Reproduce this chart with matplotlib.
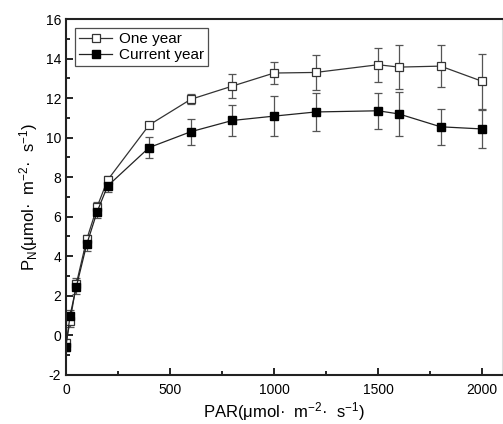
import numpy as np
from matplotlib import pyplot as plt
from matplotlib.ticker import MultipleLocator

plt.rcParams['font.family'] = ['Liberation Sans', 'DejaVu Sans']
plt.rcParams['mathtext.default'] = 'regular'
plt.rcParams['axes.unicode_minus'] = False

par = [0, 20, 50, 100, 150, 200, 400, 600, 800, 1000, 1200, 1500, 1600, 1800, 2000]

one_year = [-0.4, 0.7, 2.6, 4.85, 6.5, 7.85, 10.64, 11.94, 12.61, 13.27, 13.3, 13.69, 13.57, 13.62, 12.85]
one_year_err = [0.2, 0.3, 0.3, 0.2, 0.25, 0.2, 0.1, 0.25, 0.6, 0.55, 0.9, 0.87, 1.1, 1.05, 1.4]

current_year = [-0.6, 1.0, 2.45, 4.6, 6.25, 7.55, 9.5, 10.3, 10.87, 11.09, 11.3, 11.36, 11.2, 10.55, 10.44]
current_err = [0.2, 0.3, 0.35, 0.35, 0.3, 0.3, 0.55, 0.65, 0.8, 1.0, 0.97, 0.9, 1.1, 0.9, 0.95]

fig = plt.figure(figsize=(5.03, 4.24), dpi=100)
ax = fig.add_axes([0.131, 0.116, 0.867, 0.839])

# error bars first, then lines+markers on top (legend shows no bars)
ax.errorbar(par, one_year, yerr=one_year_err, fmt='none',
            ecolor='#555555', elinewidth=0.9, capsize=3, capthick=0.9)
ax.errorbar(par, current_year, yerr=current_err, fmt='none',
            ecolor='#555555', elinewidth=0.9, capsize=3, capthick=0.9)
ax.plot(par, one_year, color='#333333', lw=0.9, marker='s', ms=5.5,
        mfc='white', mec='#333333', mew=0.9, label='One year')
ax.plot(par, current_year, color='#222222', lw=0.9, marker='s', ms=5.5,
        mfc='black', mec='black', label='Current year')

ax.set_xlim(0, 2095)
ax.set_ylim(-2, 16)
ax.xaxis.set_major_locator(MultipleLocator(500))
ax.xaxis.set_minor_locator(MultipleLocator(250))
ax.yaxis.set_major_locator(MultipleLocator(2))
ax.yaxis.set_minor_locator(MultipleLocator(1))
ax.tick_params(which='both', direction='in', labelsize=10, width=1.2)
ax.tick_params(which='major', length=5)
ax.tick_params(which='minor', length=3)
ax.tick_params(axis='x', pad=6)
for s in ['left', 'bottom', 'top']:
    ax.spines[s].set_linewidth(1.5)
    ax.spines[s].set_color('#222222')
ax.spines['right'].set_color('#dddddd')
ax.spines['right'].set_linewidth(0.8)

ax.set_xlabel('PAR(μmol·  m$^{-2}$·  s$^{-1}$)', fontsize=12, labelpad=2)
ax.set_ylabel('P$_N$(μmol·  m$^{-2}$·  s$^{-1}$)', fontsize=12, labelpad=4)

leg = ax.legend(loc='upper left', fontsize=11, frameon=True, fancybox=False,
                edgecolor='#222222', borderpad=0.25, handlelength=2.2,
                handletextpad=0.4, labelspacing=0.15, borderaxespad=0.6)
leg.get_frame().set_linewidth(0.9)

fig.savefig('out.png', dpi=100)
